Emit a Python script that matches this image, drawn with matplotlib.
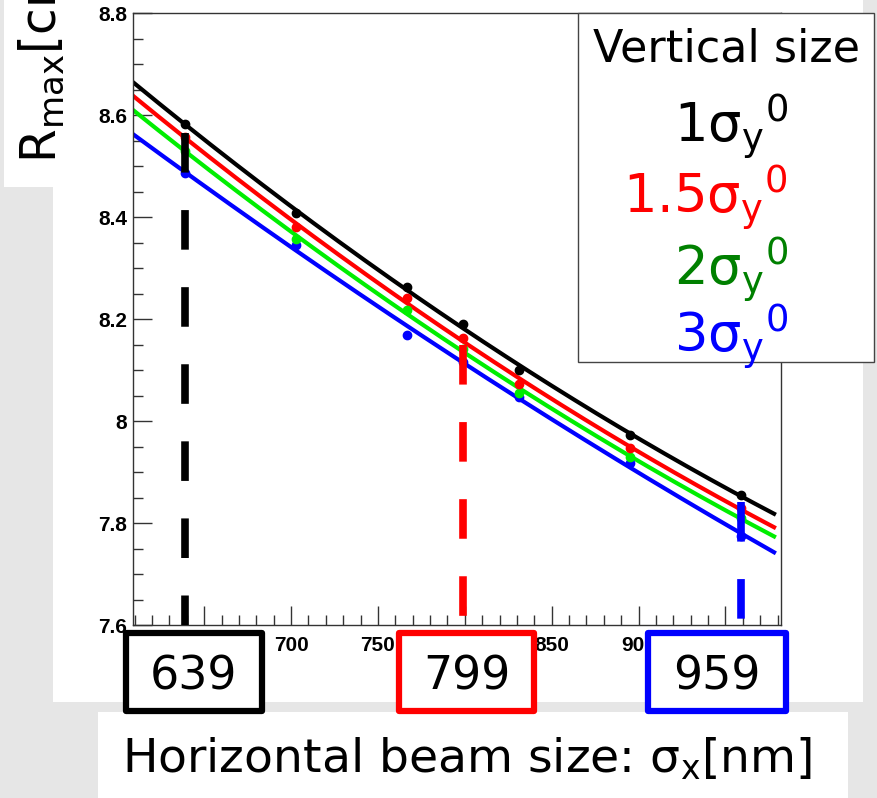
import numpy as np
import matplotlib
matplotlib.use("Agg")
import matplotlib.pyplot as plt
from matplotlib.patches import Rectangle

# beam size scan: peak radius vs horizontal beam size, four vertical sizes
sigma_x = [639, 703, 767, 799, 831, 895, 959]
r_max_1 = [8.582, 8.408, 8.263, 8.190, 8.100, 7.973, 7.855]
r_max_15 = [8.556, 8.380, 8.241, 8.163, 8.073, 7.947, 7.829]
r_max_2 = [8.530, 8.357, 8.218, 8.142, 8.055, 7.930, 7.810]
r_max_3 = [8.486, 8.345, 8.169, 8.115, 8.047, 7.918, 7.775]
r_err = [0.004, 0.004, 0.006, 0.004, 0.004, 0.004, 0.006]

series_labels = ["1", "1.5", "2", "3"]
line_colors = ["black", "#ff0000", "#00ee00", "#0000ff"]
text_colors = ["black", "#ff0000", "#008000", "#0000ff"]

# highlighted beam sizes and where their guide lines start
marked_x = [639, 799, 959]
marked_top = [8.565, 8.149, 7.841]
marked_colors = ["black", "#ff0000", "#0000ff"]

W, H = 878, 798
plt.rcParams["mathtext.fontset"] = "dejavusans"
plt.rcParams["lines.scale_dashes"] = False
plt.rcParams["xtick.labelsize"] = 15
plt.rcParams["ytick.labelsize"] = 15
main_font = ["DejaVu Sans"]
tick_font = ["Liberation Sans", "DejaVu Sans"]

fig = plt.figure(figsize=(W / 100, H / 100), dpi=100, facecolor="#e6e6e6")


def px_rect(x0, y0, x1, y1, **kw):
    r = Rectangle((x0 / W, 1 - y1 / H), (x1 - x0) / W, (y1 - y0) / H,
                  transform=fig.transFigure, **kw)
    fig.patches.append(r)
    return r


# white panels behind the plot
px_rect(4, 0, 140, 187, facecolor="white", edgecolor="none", zorder=-2)
px_rect(53, 0, 863, 702, facecolor="white", edgecolor="none", zorder=-2)
px_rect(98, 712, 848, 798, facecolor="white", edgecolor="none", zorder=-2)

ax = fig.add_axes([133 / W, 1 - 625 / H, 648 / W, 612 / H])
ax.set_facecolor("white")

all_series = [r_max_1, r_max_15, r_max_2, r_max_3]
xfit = np.linspace(609, 978, 200)
for vals, col in zip(all_series, line_colors):
    coef = np.polyfit(sigma_x, vals, 2)
    ax.plot(xfit, np.polyval(coef, xfit), color=col, lw=3, zorder=2)
for vals, col in zip(all_series[::-1], line_colors[::-1]):
    ax.errorbar(sigma_x, vals, yerr=r_err, fmt="o", ms=6, color=col,
                elinewidth=2, capsize=0, zorder=3)

for xv, top, col in zip(marked_x, marked_top, marked_colors):
    ax.plot([xv, xv], [top, 7.6], color=col, lw=5.5, dashes=(28.5, 27),
            solid_capstyle="butt", zorder=4)

ax.set_xlim(609, 982)
ax.set_ylim(7.6, 8.8)
ax.set_xticks(np.arange(650, 981, 50))
ax.set_xticks(np.arange(610, 981, 10), minor=True)
ax.set_yticks(np.arange(7.6, 8.81, 0.2))
ax.set_yticks(np.arange(7.6, 8.81, 0.05), minor=True)
ax.set_yticklabels(["7.6", "7.8", "8", "8.2", "8.4", "8.6", "8.8"])
ax.tick_params(which="both", direction="in", color="#333333", width=1,
               top=False, right=False)
ax.tick_params(which="major", length=14)
ax.tick_params(which="minor", length=7)
ax.tick_params(axis="x", pad=8)
ax.tick_params(axis="y", pad=4)
for lab in ax.get_xticklabels() + ax.get_yticklabels():
    lab.set_family(tick_font)
    lab.set_fontweight("bold")
for sp in ax.spines.values():
    sp.set_color("#333333")
    sp.set_linewidth(1)

# legend box for vertical sizes
px_rect(578, 13, 874, 362, facecolor="white", edgecolor="#444444", lw=1, zorder=5)
fig.text(727 / W, 1 - 62 / H, "Vertical size", family=main_font, fontsize=32,
         ha="center", va="baseline", zorder=6)
label_base = [142, 213, 285, 352]
for lab, col, yb in zip(series_labels, text_colors, label_base):
    fig.text(788 / W, 1 - yb / H, r"$\mathrm{%s\sigma_{y}{}^{0}}$" % lab,
             color=col, fontsize=38, ha="right", va="baseline", zorder=6)

# boxed beam sizes below the axis
box_edges = [(123, 265), (396, 537), (645, 789)]
for (x0, x1), xv, col in zip(box_edges, marked_x, marked_colors):
    px_rect(x0 + 3, 633, x1 - 3, 711, facecolor="white", edgecolor=col,
            lw=4.5, joinstyle="round", zorder=5)
    fig.text((x0 + x1) / 2 / W, 1 - 690 / H, str(xv), family=main_font,
             fontsize=33, ha="center", va="baseline", zorder=6)

fig.text(122 / W, 1 - 773 / H, r"Horizontal beam size: $\mathrm{\sigma_{x}}$[nm]",
         family=main_font, fontsize=34, ha="left", va="baseline")
fig.text(41 / W, 1 - 163 / H, r"R$_{\mathrm{max}}$[cm]", family=main_font,
         fontsize=35, rotation=90, ha="center", va="bottom")

fig.savefig("out.png", dpi=100, facecolor=fig.get_facecolor())
